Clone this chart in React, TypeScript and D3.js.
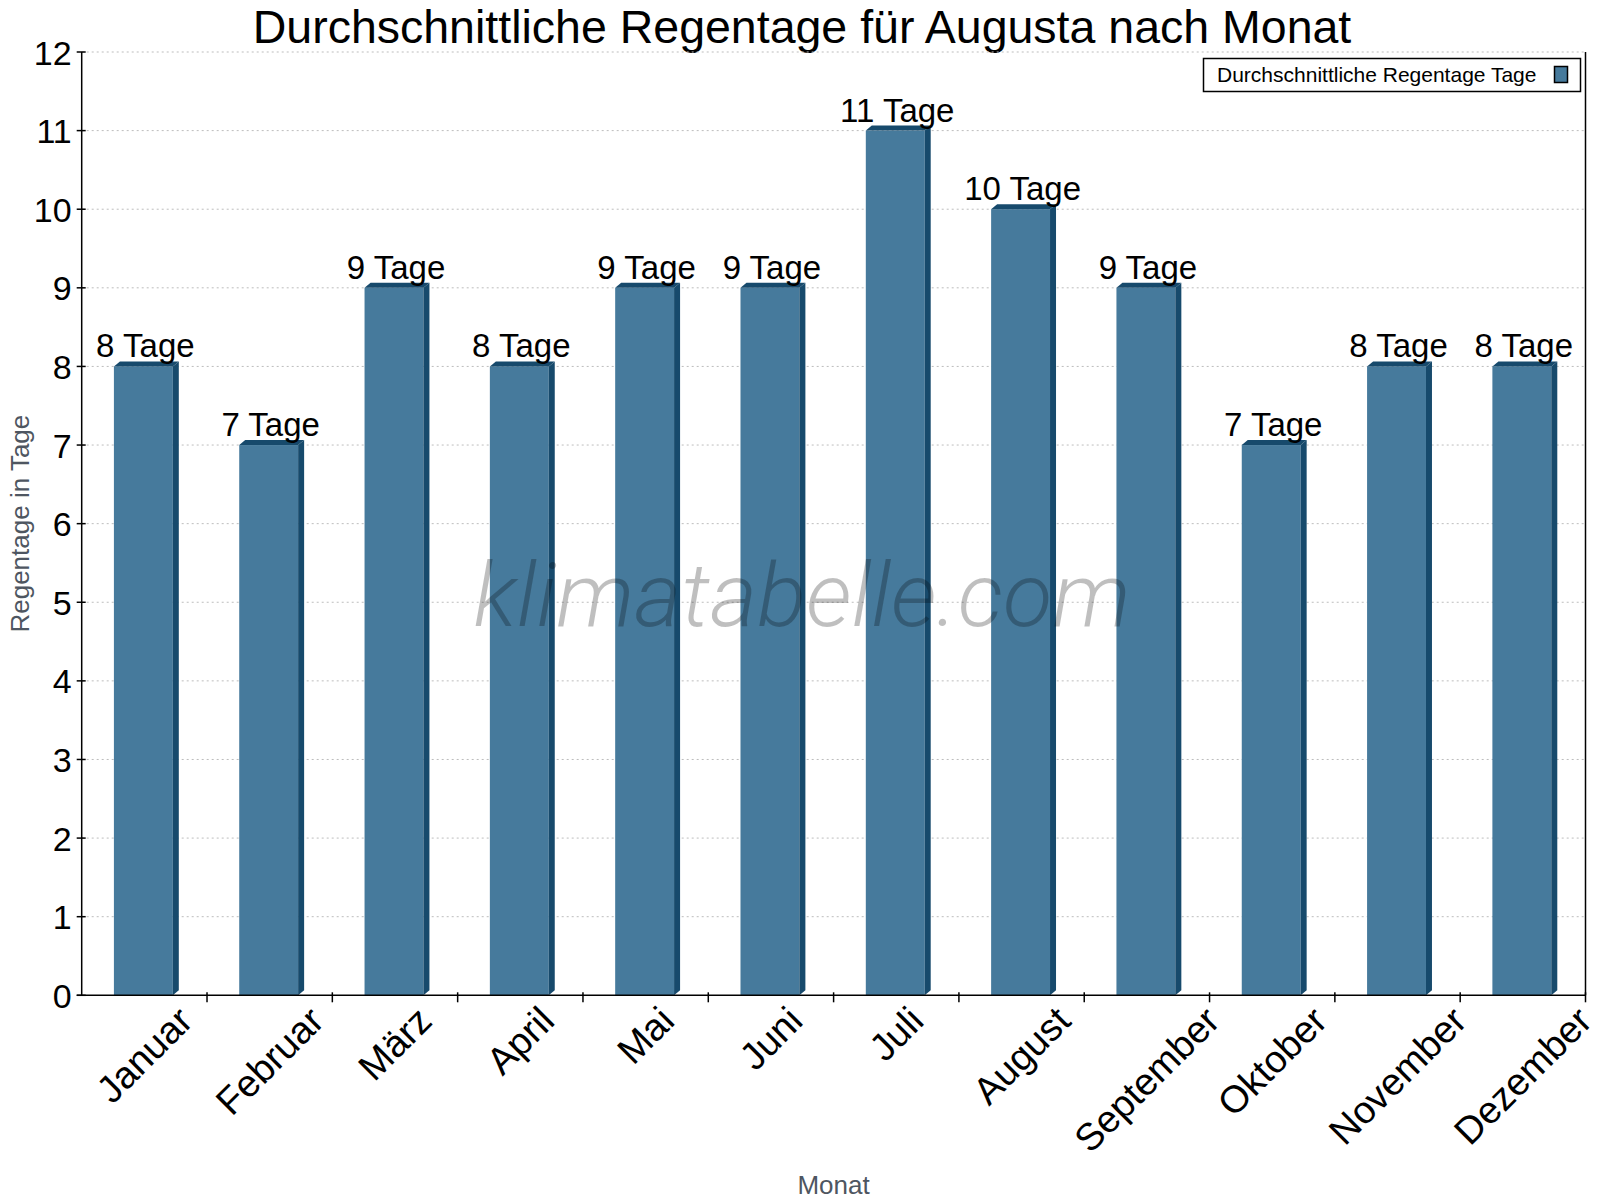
import { useRef, useEffect } from "react";
import * as d3 from "d3";

const MONTHS = [
  "Januar", "Februar", "März", "April", "Mai", "Juni",
  "Juli", "August", "September", "Oktober", "November", "Dezember",
];
const RAIN_DAYS = [8, 7, 9, 8, 9, 9, 11, 10, 9, 7, 8, 8];
const Y_TICKS = [0, 1, 2, 3, 4, 5, 6, 7, 8, 9, 10, 11, 12];

const TITLE = "Durchschnittliche Regentage für Augusta nach Monat";
const LEGEND_LABEL = "Durchschnittliche Regentage Tage";
const Y_LABEL = "Regentage in Tage";
const X_LABEL = "Monat";
const UNIT = "Tage";
const WATERMARK = "klimatabelle.com";

const FRONT = "#467a9c";
const DARK = "#174a6c";
const FONT = "'Liberation Sans', Arial, sans-serif";

export default function App() {
  const svgRef = useRef<SVGSVGElement>(null);

  useEffect(() => {
    if (!svgRef.current) return;
    const width = 1600;
    const height = 1200;
    const margin = { top: 52, right: 14.5, bottom: 204.7, left: 81.7 };
    const innerWidth = width - margin.left - margin.right;
    const innerHeight = height - margin.top - margin.bottom;

    const svg = d3.select(svgRef.current);
    svg.selectAll("*").remove();

    svg.append("rect").attr("width", width).attr("height", height).attr("fill", "#fff");

    // Title
    svg.append("text")
      .attr("x", 802)
      .attr("y", 42.5)
      .attr("text-anchor", "middle")
      .attr("font-family", FONT)
      .attr("font-size", 46.5)
      .attr("fill", "#000")
      .text(TITLE);

    const g = svg.append("g").attr("transform", `translate(${margin.left},${margin.top})`);

    const x = d3.scaleBand<string>().domain(MONTHS).range([0, innerWidth]).padding(0);
    const y = d3.scaleLinear().domain([0, 12]).range([innerHeight, 0]);

    // Grid
    g.append("g")
      .selectAll("line")
      .data(Y_TICKS.filter((t) => t > 0))
      .join("line")
      .attr("x1", 0)
      .attr("x2", innerWidth)
      .attr("y1", (d) => y(d))
      .attr("y2", (d) => y(d))
      .attr("stroke", "#bdbdbd")
      .attr("stroke-width", 1)
      .attr("stroke-dasharray", "2,3");

    // Bars with a little 3D depth
    const depthX = 6;
    const depthY = 5;
    const barW = x.bandwidth() * 0.47;
    const bars = g.append("g")
      .selectAll("g")
      .data(RAIN_DAYS.map((v, i) => ({ month: MONTHS[i], value: v })))
      .join("g");

    bars.each(function (d) {
      const sel = d3.select(this);
      const x0 = (x(d.month) || 0) + (x.bandwidth() - barW) / 2 - 1;
      const x1 = x0 + barW;
      const yt = y(d.value);
      const yb = y(0);
      sel.append("rect")
        .attr("x", x0)
        .attr("y", yt)
        .attr("width", barW)
        .attr("height", yb - yt)
        .attr("fill", FRONT);
      sel.append("polygon")
        .attr("points", `${x1},${yt} ${x1 + depthX},${yt - depthY} ${x1 + depthX},${yb - depthY} ${x1},${yb}`)
        .attr("fill", DARK);
      sel.append("polygon")
        .attr("points", `${x0},${yt} ${x0 + depthX},${yt - depthY} ${x1 + depthX},${yt - depthY} ${x1},${yt}`)
        .attr("fill", DARK);
      sel.append("text")
        .attr("x", x0 + barW / 2 + 2)
        .attr("y", yt - 9)
        .attr("text-anchor", "middle")
        .attr("font-family", FONT)
        .attr("font-size", 33)
        .attr("fill", "#000")
        .text(`${d.value} ${UNIT}`);
    });

    // Axes lines
    g.append("line")
      .attr("x1", 0).attr("x2", 0).attr("y1", 0).attr("y2", innerHeight)
      .attr("stroke", "#000").attr("stroke-width", 1.5);
    g.append("line")
      .attr("x1", innerWidth).attr("x2", innerWidth).attr("y1", 0).attr("y2", innerHeight)
      .attr("stroke", "#000").attr("stroke-width", 1.5);
    g.append("line")
      .attr("x1", -5).attr("x2", innerWidth).attr("y1", innerHeight).attr("y2", innerHeight)
      .attr("stroke", "#000").attr("stroke-width", 1.5);

    // Y ticks
    const yAxis = g.append("g");
    yAxis.selectAll("line")
      .data(Y_TICKS)
      .join("line")
      .attr("x1", -5).attr("x2", 4)
      .attr("y1", (d) => y(d)).attr("y2", (d) => y(d))
      .attr("stroke", "#000").attr("stroke-width", 1.5);
    yAxis.selectAll("text")
      .data(Y_TICKS)
      .join("text")
      .attr("x", -10)
      .attr("y", (d) => y(d) + 12.5)
      .attr("text-anchor", "end")
      .attr("font-family", FONT)
      .attr("font-size", 34)
      .attr("fill", "#000")
      .text((d) => d);

    // X ticks at band boundaries
    const bounds = MONTHS.map((m) => (x(m) || 0) + x.bandwidth());
    g.append("g")
      .selectAll("line")
      .data(bounds)
      .join("line")
      .attr("x1", (d) => d).attr("x2", (d) => d)
      .attr("y1", innerHeight - 3).attr("y2", innerHeight + 7)
      .attr("stroke", "#000").attr("stroke-width", 1.5);

    // X labels, rotated, top-aligned under the axis
    const xl = g.append("g");
    MONTHS.forEach((m) => {
      const cx = (x(m) || 0) + x.bandwidth() / 2;
      const t = xl.append("text")
        .attr("text-anchor", "middle")
        .attr("dominant-baseline", "central")
        .attr("font-family", FONT)
        .attr("font-size", 38)
        .attr("fill", "#000")
        .text(m);
      const len = (t.node() as SVGTextElement).getComputedTextLength();
      const h = 27;
      const half = ((len + h) * Math.SQRT1_2) / 2;
      t.attr("transform", `translate(${cx},${innerHeight + 9 + half}) rotate(-45)`);
    });

    // Axis titles
    svg.append("text")
      .attr("transform", `translate(29,${margin.top + innerHeight / 2}) rotate(-90)`)
      .attr("text-anchor", "middle")
      .attr("font-family", FONT)
      .attr("font-size", 26)
      .attr("fill", "#4e5661")
      .text(Y_LABEL);
    svg.append("text")
      .attr("x", margin.left + innerWidth / 2)
      .attr("y", 1194)
      .attr("text-anchor", "middle")
      .attr("font-family", FONT)
      .attr("font-size", 26)
      .attr("fill", "#4e5661")
      .text(X_LABEL);

    // Legend
    const lg = svg.append("g");
    lg.append("rect")
      .attr("x", 1203.5).attr("y", 58.5).attr("width", 377).attr("height", 33)
      .attr("fill", "#fff").attr("stroke", "#000").attr("stroke-width", 1.5);
    lg.append("text")
      .attr("x", 1217).attr("y", 82)
      .attr("font-family", FONT)
      .attr("font-size", 21)
      .attr("fill", "#000")
      .text(LEGEND_LABEL);
    lg.append("rect")
      .attr("x", 1554.5).attr("y", 66.5).attr("width", 13).attr("height", 16)
      .attr("fill", FRONT).attr("stroke", "#000").attr("stroke-width", 1.5);

    // Watermark
    svg.append("text")
      .attr("x", 802)
      .attr("y", 626)
      .attr("text-anchor", "middle")
      .attr("font-family", "Roboto, 'Open Sans', sans-serif")
      .attr("font-weight", 300)
      .attr("font-style", "italic")
      .attr("font-size", 88)
      .attr("textLength", 657)
      .attr("lengthAdjust", "spacingAndGlyphs")
      .attr("fill", "#000")
      .attr("fill-opacity", 0.25)
      .text(WATERMARK);
  }, []);

  return (
    <div style={{ position: "absolute", left: 0, top: 0 }}>
      <svg ref={svgRef} width={1600} height={1200} style={{ display: "block" }} />
    </div>
  );
}
